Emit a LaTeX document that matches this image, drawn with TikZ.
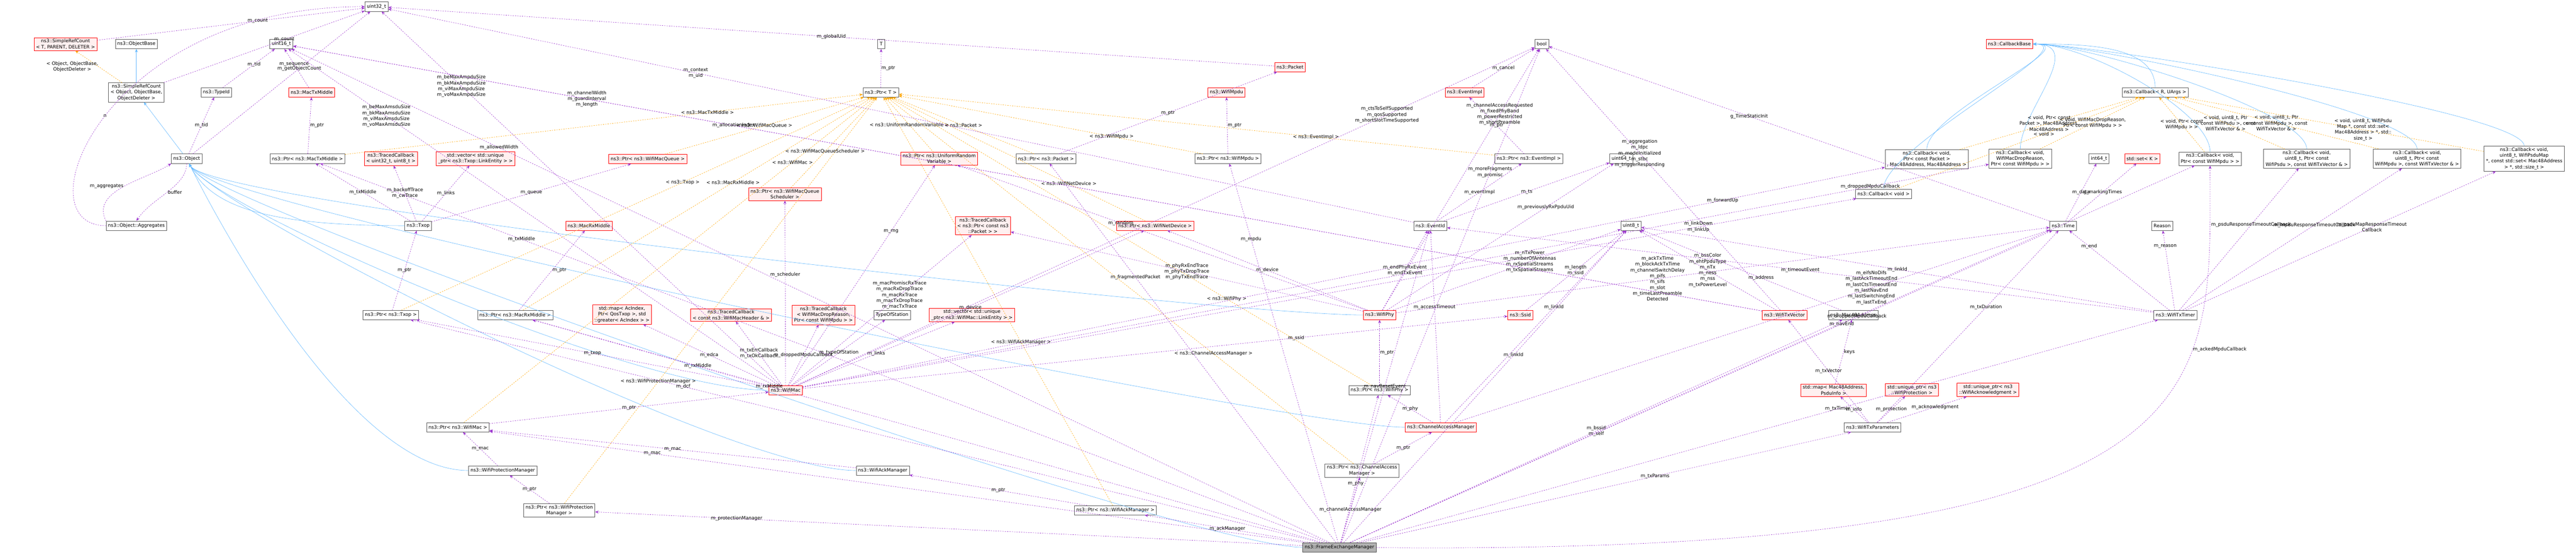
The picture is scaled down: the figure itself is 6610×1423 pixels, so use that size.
\documentclass[tikz,border=0pt]{standalone}
\usepackage{fontspec}
\setmainfont{DejaVu Sans}
\usetikzlibrary{arrows.meta}
\definecolor{usec}{HTML}{9A32CD}
\definecolor{inhc}{HTML}{63B8FF}
\definecolor{tplc}{HTML}{FFA500}
\definecolor{redf}{HTML}{FFF0F0}
\begin{document}
\begin{tikzpicture}[x=1pt,y=-1pt,
 nd/.style={draw=gray!70!black,fill=white,thick,inner xsep=5pt,inner ysep=4pt,minimum height=24pt,align=center,font=\fontsize{12}{14.9}\selectfont},
 rd/.style={nd,draw=red,fill=redf},
 gd/.style={nd,draw=black!70,fill=gray!60},
 usee/.style={draw=usec,dashed,thick,-{Stealth[length=9pt,width=7pt]}},
 inh/.style={draw=inhc,thick,-{Stealth[length=9pt,width=7pt]}},
 tpl/.style={draw=tplc,dashed,thick,-{Stealth[length=9pt,width=7pt]}},
 lb/.style={font=\fontsize{12}{14.9}\selectfont,align=center,inner sep=1pt}]
\useasboundingbox (0,0) rectangle (6610,1423);
% ---- nodes
\node[nd] (u32) at (966,17) {uint32\_t};
\node[rd] (srcT) at (168,113) {ns3::SimpleRefCount\\< T, PARENT, DELETER >};
\node[nd] (ob) at (350,113) {ns3::ObjectBase};
\node[nd] (u16) at (722,113) {uint16\_t};
\node[nd] (srcO) at (350,237) {ns3::SimpleRefCount\\< Object, ObjectBase,\\ObjectDeleter >};
\node[nd] (tid) at (555,237) {ns3::TypeId};
\node[rd] (mtm) at (800,237) {ns3::MacTxMiddle};
\node[nd] (obj) at (479,407) {ns3::Object};
\node[nd] (pmtm) at (789,407) {ns3::Ptr< ns3::MacTxMiddle >};
\node[rd] (tc1) at (1003,407) {ns3::TracedCallback\\< uint32\_t, uint8\_t >};
\node[rd] (vle) at (1220,407) {std::vector< std::unique\\\_ptr< ns3::Txop::LinkEntity > >};
\node[rd] (pwmq) at (1662,408) {ns3::Ptr< ns3::WifiMacQueue >};
\node[nd] (agg) at (350,579) {ns3::Object::Aggregates};
\node[nd] (txop) at (1073,579) {ns3::Txop};
\node[rd] (mrm) at (1511,579) {ns3::MacRxMiddle};
\node[nd] (ptxop) at (1003,808) {ns3::Ptr< ns3::Txop >};
\node[nd] (pmrm) at (1322,808) {ns3::Ptr< ns3::MacRxMiddle >};
\node[rd] (edca) at (1596,807) {std::map< AcIndex,\\Ptr< QosTxop >, std\\::greater< AcIndex > >};
\node[nd] (pwm) at (1175,1096) {ns3::Ptr< ns3::WifiMac >};
\node[nd] (wpm) at (1290,1207) {ns3::WifiProtectionManager};
\node[nd] (pwpm) at (1435,1309) {ns3::Ptr< ns3::WifiProtection\\Manager >};
\node[rd] (tcmh) at (1876,808) {ns3::TracedCallback\\< const ns3::WifiMacHeader \& >};
\node[rd] (tcdr) at (2113,808) {ns3::TracedCallback\\< WifiMacDropReason,\\Ptr< const WifiMpdu > >};
\node[nd] (tos) at (2289,808) {TypeOfStation};
\node[rd] (vwle) at (2494,808) {std::vector< std::unique\\\_ptr< ns3::WifiMac::LinkEntity > >};
\node[rd] (wmac) at (2016,1001) {ns3::WifiMac};
\node[nd] (wam) at (2265,1207) {ns3::WifiAckManager};
\node[nd] (pwam) at (2862,1309) {ns3::Ptr< ns3::WifiAckManager >};
\node[nd] (T) at (2261,113) {T};
\node[nd] (pT) at (2260,237) {ns3::Ptr< T >};
\node[rd] (mpdu) at (3147,237) {ns3::WifiMpdu};
\node[rd] (pkt) at (3310,172) {ns3::Packet};
\node[rd] (purv) at (2410,407) {ns3::Ptr< ns3::UniformRandom\\Variable >};
\node[nd] (ppkt) at (2684,407) {ns3::Ptr< ns3::Packet >};
\node[nd] (pmpdu) at (3151,407) {ns3::Ptr< ns3::WifiMpdu >};
\node[rd] (psch) at (2014,498) {ns3::Ptr< ns3::WifiMacQueue\\Scheduler >};
\node[rd] (tcpk) at (2522,579) {ns3::TracedCallback\\< ns3::Ptr< const ns3\\::Packet > >};
\node[rd] (pnd) at (2964,579) {ns3::Ptr< ns3::WifiNetDevice >};
\node[nd] (bool) at (3956,113) {bool};
\node[rd] (eimpl) at (3758,237) {ns3::EventImpl};
\node[nd] (peimpl) at (3923,407) {ns3::Ptr< ns3::EventImpl >};
\node[nd] (u64) at (4160,407) {uint64\_t};
\node[nd] (cbpk) at (4944,408) {ns3::Callback< void,\\Ptr< const Packet >\\, Mac48Address, Mac48Address >};
\node[nd] (cbv) at (4833,497) {ns3::Callback< void >};
\node[nd] (eid) at (3670,579) {ns3::EventId};
\node[nd] (u8) at (4185,579) {uint8\_t};
\node[rd] (phy) at (3540,808) {ns3::WifiPhy};
\node[rd] (ssid) at (3901,808) {ns3::Ssid};
\node[rd] (txv) at (4579,808) {ns3::WifiTxVector};
\node[nd] (mac48) at (4755,808) {ns3::Mac48Address};
\node[nd] (pphy) at (3540,1001) {ns3::Ptr< ns3::WifiPhy >};
\node[rd] (psdu) at (4705,1001) {std::map< Mac48Address,\\PsduInfo >};
\node[rd] (uprot) at (4906,1000) {std::unique\_ptr< ns3\\::WifiProtection >};
\node[rd] (uack) at (5101,1000) {std::unique\_ptr< ns3\\::WifiAcknowledgment >};
\node[rd] (cam) at (3697,1096) {ns3::ChannelAccessManager};
\node[nd] (wtp) at (4805,1096) {ns3::WifiTxParameters};
\node[nd] (pcam) at (3495,1207) {ns3::Ptr< ns3::ChannelAccess\\Manager >};
\node[gd] (fem) at (3437,1404) {ns3::FrameExchangeManager};
\node[rd] (cbb) at (5156,113) {ns3::CallbackBase};
\node[nd] (cbr) at (5530,237) {ns3::Callback< R, UArgs >};
\node[nd] (cbdr) at (5184,407) {ns3::Callback< void,\\WifiMacDropReason,\\Ptr< const WifiMpdu > >};
\node[nd] (i64) at (5386,407) {int64\_t};
\node[rd] (setk) at (5497,407) {std::set< K >};
\node[nd] (cbm) at (5671,407) {ns3::Callback< void,\\Ptr< const WifiMpdu > >};
\node[nd] (cbps) at (5919,407) {ns3::Callback< void,\\uint8\_t, Ptr< const\\WifiPsdu >, const WifiTxVector \& >};
\node[nd] (cbmt) at (6202,407) {ns3::Callback< void,\\uint8\_t, Ptr< const\\WifiMpdu >, const WifiTxVector \& >};
\node[nd] (cbpm) at (6477,407) {ns3::Callback< void,\\uint8\_t, WifiPsduMap\\*, const std::set< Mac48Address\\> *, std::size\_t >};
\node[nd] (time) at (5294,579) {ns3::Time};
\node[nd] (reason) at (5548,579) {Reason};
\node[nd] (wtt) at (5582,808) {ns3::WifiTxTimer};
% ---- inheritance
\draw[inh] (srcO) -- (ob);
\draw[inh] (obj) -- (srcO);
\foreach \c in {txop,wmac,wpm,wam,cam,fem,phy} \draw[inh] (\c) .. controls +(-400,0) and +(60,120) .. (obj);
\foreach \c in {cbr,cbdr,cbm,cbps,cbmt,cbpm,cbpk,cbv} \draw[inh] (\c) .. controls +(0,-120) and +(200,0) .. (cbb);
% ---- templates
\draw[tpl] (srcO) -- node[lb,left,pos=0.5]{< Object, ObjectBase,\\ObjectDeleter >} (srcT);
\draw[tpl] (pmtm) -- node[lb,pos=0.7]{< ns3::MacTxMiddle >} (pT);
\draw[tpl] (pwmq) -- node[lb]{< ns3::WifiMacQueue >} (pT);
\draw[tpl] (ptxop) -- node[lb,pos=0.6]{< ns3::Txop >} (pT);
\draw[tpl] (pmrm) -- node[lb,pos=0.6]{< ns3::MacRxMiddle >} (pT);
\draw[tpl] (pwm) -- node[lb,pos=0.8]{< ns3::WifiMac >} (pT);
\draw[tpl] (pwpm) -- node[lb,pos=0.3]{< ns3::WifiProtectionManager >} (pT);
\draw[tpl] (psch) -- node[lb,pos=0.4]{< ns3::WifiMacQueueScheduler >} (pT);
\draw[tpl] (purv) -- node[lb]{< ns3::UniformRandomVariable >} (pT);
\draw[tpl] (ppkt) -- node[lb]{< ns3::Packet >} (pT);
\draw[tpl] (pnd) -- node[lb,pos=0.3]{< ns3::WifiNetDevice >} (pT);
\draw[tpl] (pmpdu) -- node[lb,pos=0.3]{< ns3::WifiMpdu >} (pT);
\draw[tpl] (pphy) -- node[lb,pos=0.3]{< ns3::WifiPhy >} (pT);
\draw[tpl] (pcam) -- node[lb,pos=0.3]{< ns3::ChannelAccessManager >} (pT);
\draw[tpl] (pwam) -- node[lb,pos=0.4]{< ns3::WifiAckManager >} (pT);
\draw[tpl] (peimpl) -- node[lb,pos=0.3]{< ns3::EventImpl >} (pT);
\draw[tpl] (cbpk) -- node[lb]{< void, Ptr< const\\Packet >, Mac48Address,\\Mac48Address >} (cbr);
\draw[tpl] (cbdr) -- node[lb]{< void, WifiMacDropReason,\\Ptr< const WifiMpdu > >} (cbr);
\draw[tpl] (cbv) -- node[lb,pos=0.6]{< void >} (cbr);
\draw[tpl] (cbm) -- node[lb]{< void, Ptr< const\\WifiMpdu > >} (cbr);
\draw[tpl] (cbps) -- node[lb]{< void, uint8\_t, Ptr\\< const WifiPsdu >, const\\WifiTxVector \& >} (cbr);
\draw[tpl] (cbmt) -- node[lb]{< void, uint8\_t, Ptr\\< const WifiMpdu >, const\\WifiTxVector \& >} (cbr);
\draw[tpl] (cbpm) -- node[lb,pos=0.4]{< void, uint8\_t, WifiPsdu\\Map *, const std::set<\\Mac48Address > *, std::\\size\_t >} (cbr);
% ---- usage
\draw[usee] (srcT) -- node[lb,pos=0.6]{m\_count} (u32);
\draw[usee] (srcO) -- node[lb,pos=0.6]{m\_count} (u32);
\draw[usee] (obj) -- node[lb,pos=0.6]{m\_getObjectCount} (u32);
\draw[usee] (agg) .. controls +(-300,0) and +(-700,0) .. node[lb,pos=0.5]{n} (u32);
\draw[usee] (tid) -- node[lb,pos=0.6]{m\_tid} (u16);
\draw[usee] (obj) -- node[lb]{m\_tid} (tid);
\draw[usee] (mtm) -- node[lb,pos=0.6]{m\_sequence} (u16);
\draw[usee] (pmtm) -- node[lb,right]{m\_ptr} (mtm);
\draw[usee] (agg.north west) .. controls +(-40,-80) and +(-60,40) .. node[lb,left]{m\_aggregates} (obj.south west);
\draw[usee] (obj.south) .. controls +(0,60) and +(40,-60) .. node[lb,right]{buffer} (agg.north);
\draw[usee] (txop) -- node[lb]{m\_txMiddle} (pmtm);
\draw[usee] (txop) -- node[lb]{m\_backoffTrace\\m\_cwTrace} (tc1);
\draw[usee] (txop) -- node[lb]{m\_links} (vle);
\draw[usee] (txop) -- node[lb]{m\_queue} (pwmq);
\draw[usee] (pT) -- node[lb,right]{m\_ptr} (T);
\draw[usee] (pmrm) -- node[lb,right]{m\_ptr} (mrm);
\draw[usee] (ptxop) -- node[lb]{m\_ptr} (txop);
\draw[usee] (wmac) -- node[lb]{m\_txop} (ptxop);
\draw[usee] (wmac) -- node[lb,pos=0.3]{m\_rxMiddle} (pmrm);
\draw[usee] (wmac) -- node[lb]{m\_edca} (edca);
\draw[usee] (wmac) -- node[lb]{m\_txErrCallback\\m\_txOkCallback} (tcmh);
\draw[usee] (wmac) -- node[lb]{m\_droppedMpduCallback} (tcdr);
\draw[usee] (wmac) -- node[lb]{m\_typeOfStation} (tos);
\draw[usee] (wmac) -- node[lb]{m\_links} (vwle);
\draw[usee] (wmac) -- node[lb,pos=0.6]{m\_macPromiscRxTrace\\m\_macRxDropTrace\\m\_macRxTrace\\m\_macTxDropTrace\\m\_macTxTrace} (tcpk);
\draw[usee] (wmac) -- node[lb,pos=0.6]{m\_scheduler} (psch);
\draw[usee] (wmac) -- node[lb,pos=0.7]{m\_rng} (purv);
\draw[usee] (wmac) -- node[lb,pos=0.8]{m\_beMaxAmsduSize\\m\_bkMaxAmsduSize\\m\_viMaxAmsduSize\\m\_voMaxAmsduSize} (u16);
\draw[usee] (wmac) -- node[lb,pos=0.8]{m\_beMaxAmpduSize\\m\_bkMaxAmpduSize\\m\_viMaxAmpduSize\\m\_voMaxAmpduSize} (u32);
\draw[usee] (wmac) -- node[lb,pos=0.5]{m\_device} (pnd);
\draw[usee] (wmac) -- node[lb,pos=0.7]{m\_ssid} (ssid);
\draw[usee] (wmac) -- node[lb,pos=0.8]{m\_ctsToSelfSupported\\m\_qosSupported\\m\_shortSlotTimeSupported} (bool);
\draw[usee] (wmac) -- node[lb,pos=0.85]{m\_forwardUp} (cbpk);
\draw[usee] (wmac) -- node[lb,pos=0.85]{m\_linkDown\\m\_linkUp} (cbv);
\draw[usee] (wmac) -- node[lb,pos=0.9]{m\_droppedMpduCallback} (cbdr);
\draw[usee] (pwm) -- node[lb]{m\_ptr} (wmac);
\draw[usee] (wpm) -- node[lb]{m\_mac} (pwm);
\draw[usee] (wam) -- node[lb]{m\_mac} (pwm);
\draw[usee] (pwpm) -- node[lb]{m\_ptr} (wpm);
\draw[usee] (pwam) -- node[lb]{m\_ptr} (wam);
\draw[usee] (pcam) -- node[lb]{m\_ptr} (cam);
\draw[usee] (pphy) -- node[lb,right]{m\_ptr} (phy);
\draw[usee] (pmpdu) -- node[lb,right]{m\_ptr} (mpdu);
\draw[usee] (ppkt) -- node[lb]{m\_ptr} (pkt);
\draw[usee] (peimpl) -- node[lb]{m\_ptr} (eimpl);
\draw[usee] (eimpl) -- node[lb]{m\_cancel} (bool);
\draw[usee] (pkt) -- node[lb]{m\_globalUid} (u32);
\draw[usee] (eid) -- node[lb]{m\_eventImpl} (peimpl);
\draw[usee] (eid) -- node[lb]{m\_ts} (u64);
\draw[usee] (eid) -- node[lb,pos=0.7]{m\_context\\m\_uid} (u32);
\draw[usee] (cam) -- node[lb]{m\_phy} (pphy);
\draw[usee] (cam) -- node[lb,pos=0.6]{m\_accessTimeout} (eid);
\draw[usee] (cam) -- node[lb,pos=0.7]{m\_eifsNoDifs\\m\_lastAckTimeoutEnd\\m\_lastCtsTimeoutEnd\\m\_lastNavEnd\\m\_lastSwitchingEnd\\m\_lastTxEnd} (time);
\draw[usee] (cam) -- node[lb,pos=0.6]{m\_linkId} (u8);
\draw[usee] (phy) -- node[lb]{m\_device} (pnd);
\draw[usee] (phy) -- node[lb]{m\_phyRxEndTrace\\m\_phyTxDropTrace\\m\_phyTxEndTrace} (tcpk);
\draw[usee] (phy) -- node[lb]{m\_endPhyRxEvent\\m\_endTxEvent} (eid);
\draw[usee] (phy) -- node[lb,pos=0.6]{m\_nTxPower\\m\_numberOfAntennas\\m\_rxSpatialStreams\\m\_txSpatialStreams} (u8);
\draw[usee] (phy) -- node[lb,pos=0.75]{m\_channelAccessRequested\\m\_fixedPhyBand\\m\_powerRestricted\\m\_shortPreamble} (bool);
\draw[usee] (phy) -- node[lb,pos=0.7]{m\_previouslyRxPpduUid} (u64);
\draw[usee] (phy) -- node[lb,pos=0.6]{m\_random} (purv);
\draw[usee] (phy) -- node[lb,pos=0.4]{m\_ackTxTime\\m\_blockAckTxTime\\m\_channelSwitchDelay\\m\_pifs\\m\_sifs\\m\_slot\\m\_timeLastPreamble\\Detected} (time);
\draw[usee] (txv) -- node[lb,pos=0.8]{m\_channelWidth\\m\_guardInterval\\m\_length} (u16);
\draw[usee] (txv) -- node[lb,pos=0.5]{m\_bssColor\\m\_ehtPpduType\\m\_nTx\\m\_ness\\m\_nss\\m\_txPowerLevel} (u8);
\draw[usee] (txv) -- node[lb,pos=0.6]{m\_aggregation\\m\_ldpc\\m\_modeInitialized\\m\_stbc\\m\_triggerResponding} (bool);
\draw[usee] (txv) -- node[lb,pos=0.7]{m\_allocationIndex} (u16);
\draw[usee] (ssid) -- node[lb]{m\_length\\m\_ssid} (u8);
\draw[usee] (mac48) -- node[lb,pos=0.4]{m\_address} (u8);
\draw[usee] (time) -- node[lb]{m\_data} (i64);
\draw[usee] (time) -- node[lb]{g\_markingTimes} (setk);
\draw[usee] (time) -- node[lb,pos=0.6]{g\_TimeStaticInit} (bool);
\draw[usee] (wtt) -- node[lb,pos=0.8]{m\_end} (time);
\draw[usee] (wtt) -- node[lb,pos=0.8]{m\_reason} (reason);
\draw[usee] (wtt) -- node[lb,pos=0.6]{m\_mpduResponseTimeoutCallback} (cbmt);
\draw[usee] (wtt) -- node[lb,pos=0.6]{m\_psduResponseTimeoutCallback} (cbps);
\draw[usee] (wtt) -- node[lb,pos=0.6]{m\_psduMapResponseTimeout\\Callback} (cbpm);
\draw[usee] (wtt) -- node[lb,pos=0.5]{m\_timeoutEvent} (eid);
\draw[usee] (wtt) -- node[lb,pos=0.5]{m\_linkId} (u8);
\draw[usee] (psdu) -- node[lb,right]{keys} (mac48);
\draw[usee] (wtp) -- node[lb]{m\_info} (psdu);
\draw[usee] (wtp) -- node[lb]{m\_protection} (uprot);
\draw[usee] (wtp) -- node[lb,pos=0.6]{m\_acknowledgment} (uack);
\draw[usee] (wtp) -- node[lb]{m\_txVector} (txv);
\draw[usee] (wtp) -- node[lb,pos=0.6]{m\_txDuration} (time);
\draw[usee] (fem) -- node[lb,pos=0.7]{m\_dcf} (ptxop);
\draw[usee] (fem) -- node[lb,pos=0.8]{m\_allowedWidth} (u16);
\draw[usee] (fem) -- node[lb,pos=0.8]{m\_txMiddle} (pmtm);
\draw[usee] (fem) -- node[lb,pos=0.8]{m\_mac} (pwm);
\draw[usee] (fem) -- node[lb,pos=0.8]{m\_protectionManager} (pwpm);
\draw[usee] (fem) -- node[lb,pos=0.7]{m\_rxMiddle} (pmrm);
\draw[usee] (fem) -- node[lb,pos=0.5]{m\_ackManager} (pwam);
\draw[usee] (fem) -- node[lb,pos=0.4]{m\_phy} (pphy);
\draw[usee] (fem) -- node[lb]{m\_channelAccessManager} (pcam);
\draw[usee] (fem) -- node[lb,pos=0.7]{m\_fragmentedPacket} (ppkt);
\draw[usee] (fem) -- node[lb,pos=0.8]{m\_mpdu} (pmpdu);
\draw[usee] (fem) -- node[lb,pos=0.5]{m\_navResetEvent} (eid);
\draw[usee] (fem) -- node[lb,pos=0.6]{m\_linkId} (u8);
\draw[usee] (fem) -- node[lb,pos=0.5]{m\_bssid\\m\_self} (mac48);
\draw[usee] (fem) -- node[lb,pos=0.6]{m\_txParams} (wtp);
\draw[usee] (fem) -- node[lb,pos=0.75]{m\_moreFragments\\m\_promisc} (bool);
\draw[usee] (fem) -- node[lb,pos=0.7]{m\_navEnd} (time);
\draw[usee] (fem) -- node[lb,pos=0.6]{m\_droppedMpduCallback} (cbm);
\draw[usee] (fem) -- node[lb,pos=0.6]{m\_txTimer} (wtt);
\draw[usee] (fem) .. controls +(2300,20) and +(0,600) .. node[lb,pos=0.7,right]{m\_ackedMpduCallback} (cbm);
\end{tikzpicture}
\end{document}
